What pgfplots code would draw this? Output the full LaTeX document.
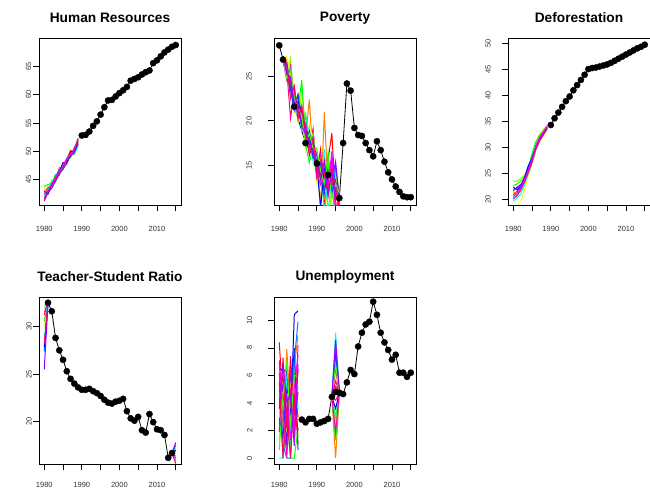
\documentclass[border=0pt]{standalone}
\usepackage{fontspec}
\setmainfont{Liberation Sans}
\usepackage{pgfplots}
\usepackage{pgfplotstable}
\pgfplotsset{compat=1.18}

% rainbow palette for the imputed series
\definecolor{rb1}{HTML}{FF0000}
\definecolor{rb2}{HTML}{FF8000}
\definecolor{rb3}{HTML}{FFFF00}
\definecolor{rb4}{HTML}{80FF00}
\definecolor{rb5}{HTML}{00FF00}
\definecolor{rb6}{HTML}{00FF80}
\definecolor{rb7}{HTML}{00FFFF}
\definecolor{rb8}{HTML}{0080FF}
\definecolor{rb9}{HTML}{0000FF}
\definecolor{rb10}{HTML}{8000FF}
\definecolor{rb11}{HTML}{FF00FF}
\definecolor{rb12}{HTML}{FF0080}
\definecolor{rb13}{HTML}{FF0040}
\definecolor{rb14}{HTML}{0040FF}
\definecolor{rb15}{HTML}{FF00C0}
\definecolor{rb16}{HTML}{40FF00}
\definecolor{rb17}{HTML}{FF0060}
\definecolor{rb18}{HTML}{A000FF}

% ---------------- observed series ----------------
\pgfplotstableread{
year val
1990 52.8
1991 52.9
1992 53.5
1993 54.5
1994 55.3
1995 56.5
1996 57.8
1997 59.0
1998 59.1
1999 59.7
2000 60.3
2001 60.8
2002 61.4
2003 62.5
2004 62.8
2005 63.1
2006 63.6
2007 64.0
2008 64.3
2009 65.6
2010 66.1
2011 66.8
2012 67.5
2013 68.0
2014 68.5
2015 68.8
}\hrobs

\pgfplotstableread{
year val
1980 28.5
1981 26.9
1984 21.6
1987 17.5
1990 15.2
1993 13.9
1996 11.3
1997 17.5
1998 24.2
1999 23.4
2000 19.2
2001 18.4
2002 18.3
2003 17.5
2004 16.7
2005 16.0
2006 17.7
2007 16.7
2008 15.4
2009 14.2
2010 13.4
2011 12.6
2012 12.0
2013 11.5
2014 11.4
2015 11.4
}\povobs

\pgfplotstableread{
year val
1990 34.3
1991 35.6
1992 36.7
1993 37.8
1994 38.9
1995 39.8
1996 41.0
1997 42.0
1998 43.0
1999 44.0
2000 45.1
2001 45.3
2002 45.4
2003 45.6
2004 45.8
2005 46.0
2006 46.3
2007 46.7
2008 47.1
2009 47.5
2010 47.9
2011 48.3
2012 48.7
2013 49.1
2014 49.4
2015 49.8
}\defobs

\pgfplotstableread{
year val
1981 32.5
1982 31.6
1983 28.8
1984 27.5
1985 26.5
1986 25.3
1987 24.5
1988 24.0
1989 23.6
1990 23.35
1991 23.35
1992 23.45
1993 23.2
1994 23.0
1995 22.7
1996 22.3
1997 22.0
1998 21.9
1999 22.1
2000 22.2
2001 22.4
2002 21.1
2003 20.35
2004 20.1
2005 20.5
2006 19.1
2007 18.85
2008 20.8
2009 19.95
2010 19.2
2011 19.1
2012 18.6
2013 16.2
2014 16.7
}\tsrobs

\pgfplotstableread{
year val
1986 2.8
1987 2.6
1988 2.85
1989 2.85
1990 2.5
1991 2.6
1992 2.7
1993 2.85
1994 4.45
1995 4.8
1996 4.75
1997 4.65
1998 5.5
1999 6.4
2000 6.1
2001 8.1
2002 9.1
2003 9.7
2004 9.9
2005 11.35
2006 10.4
2007 9.1
2008 8.4
2009 7.85
2010 7.15
2011 7.5
2012 6.2
2013 6.2
2014 5.9
2015 6.2
}\unobs

% ---------------- imputed series ----------------
\pgfplotstableread{
year s1 s2 s3 s4 s5 s6 s7 s8 s9 s10 s11 s12
1980 42.0 43.1 42.6 43.5 43.8 41.8 42.2 41.5 42.9 41.2 42.4 41.6
1981 43.5 42.9 44.0 43.0 44.1 43.4 42.6 43.1 42.4 42.7 43.6 42.8
1982 44.1 44.6 43.8 44.9 44.4 43.6 44.8 43.9 44.2 43.5 43.7 44.3
1983 45.8 45.0 45.6 44.6 45.9 44.9 45.3 45.5 45.1 44.7 45.4 44.9
1984 46.0 47.2 46.5 46.1 45.7 46.6 45.9 46.8 46.4 46.0 46.3 46.5
1985 47.6 46.8 47.9 47.0 47.4 46.7 47.8 47.2 48.0 46.9 47.5 47.3
1986 48.3 48.7 47.8 48.9 48.2 48.5 47.6 48.8 48.1 47.9 48.6 48.4
1987 49.4 50.2 49.3 48.8 49.8 49.1 49.6 49.0 50.0 49.2 49.5 49.7
1988 50.0 49.9 50.6 50.1 49.4 50.3 49.6 50.7 49.9 49.8 50.4 50.2
1989 51.5 51.9 51.2 51.6 51.0 51.8 50.9 51.4 52.0 51.3 52.2 52.3
}\hrimp

\pgfplotstableread{
year s1 s2 s3 s4 s5 s6 s7 s8 s9 s10 s11 s12 s13 s14 s15 s16 s17 s18
1981 26.9 26.9 26.5 27.1 26.7 27.2 26.8 27.0 26.6 27.3 26.9 27.0 26.8 27.1 26.7 27.0 26.9 27.2
1982 25.0 26.8 27.3 24.7 26.0 25.9 24.9 26.3 25.4 26.1 24.6 25.7 25.2 26.4 25.8 24.8 26.6 25.3
1983 26.4 23.1 25.5 27.0 24.4 22.9 25.1 23.8 24.8 23.4 26.0 20.3 24.0 23.6 24.6 25.7 22.5 24.9
1984 21.8 24.0 20.9 22.3 23.7 22.4 21.4 23.2 21.6 22.9 22.1 23.4 22.8 21.2 23.0 22.6 23.9 21.9
1985 23.0 20.1 22.6 19.9 21.3 21.9 20.6 21.0 22.2 20.4 21.7 21.2 20.8 22.9 20.9 21.5 20.2 21.8
1986 19.2 21.9 20.8 23.5 24.6 18.9 20.1 19.5 21.1 20.6 19.8 20.9 21.4 19.6 20.2 20.5 21.6 19.3
1987 20.6 18.0 16.6 19.2 17.4 20.8 18.4 19.8 17.9 18.7 19.5 17.8 18.9 19.0 18.2 17.3 19.1 18.6
1988 16.9 22.4 19.7 16.4 15.3 17.6 19.3 17.0 18.8 17.3 18.0 18.5 17.9 18.3 16.8 18.6 16.1 17.7
1989 19.1 15.9 17.8 18.6 17.0 16.3 15.4 18.2 16.6 17.5 16.0 17.3 17.6 15.8 17.9 16.9 18.0 16.4
1990 14.2 16.4 13.1 15.3 16.9 13.7 15.9 14.6 15.0 16.1 14.9 13.5 14.8 15.6 14.1 16.6 13.9 15.2
1991 16.8 10.2 15.8 10.0 13.6 14.9 13.0 15.4 10.3 14.1 16.2 14.8 13.8 15.1 12.8 14.4 15.6 13.3
1992 10.0 21.0 13.5 15.9 12.2 9.8 16.8 13.1 14.6 12.6 13.9 15.2 14.2 11.8 13.7 12.9 14.0 15.5
1993 15.6 12.2 9.5 14.6 16.4 13.2 9.6 15.0 13.3 14.3 12.1 13.6 11.5 14.9 13.0 15.3 12.7 11.7
1994 18.6 14.9 13.8 9.0 12.5 15.3 14.0 11.9 15.9 13.2 16.6 12.8 14.6 12.0 15.1 11.2 13.5 14.4
1995 11.0 10.4 14.3 13.9 9.2 12.7 12.0 14.8 11.6 15.4 9.5 13.4 12.3 13.1 10.1 12.9 11.8 11.1
1996 11.8 11.3 11.0 12.2 11.4 10.6 11.2 11.5 10.9 11.1 12.4 9.8 10.7 11.6 10.8 11.9 10.5 11.3
}\povimp

\pgfplotstableread{
year s1 s2 s3 s4 s5 s6 s7 s8 s9 s10 s11 s12
1980 20.8 21.4 18.4 23.5 22.6 20.2 19.6 21.9 22.3 21.6 20.5 20.0
1981 21.5 21.0 18.7 23.4 22.9 20.8 20.1 22.1 21.8 22.3 21.1 20.6
1982 22.1 21.9 19.6 24.0 23.5 21.6 21.0 22.6 22.4 22.8 22.2 21.8
1983 23.9 23.2 21.8 24.6 24.3 23.1 22.7 23.8 24.2 24.0 23.6 23.3
1984 25.8 25.0 24.5 26.1 25.9 25.3 24.9 26.2 26.4 25.7 25.5 25.1
1985 27.9 27.2 26.8 28.4 28.8 27.5 27.0 28.1 27.8 27.4 27.7 27.1
1986 30.3 29.7 29.4 30.9 31.0 29.9 29.5 30.2 30.0 29.8 30.1 29.6
1987 31.8 31.2 31.0 32.5 32.2 31.4 31.3 31.7 31.6 31.5 31.9 31.2
1988 32.8 32.3 32.2 33.4 33.0 32.6 32.4 32.9 32.5 32.7 33.0 32.4
1989 33.9 33.4 33.3 34.2 34.0 33.7 33.5 33.8 33.6 33.9 34.1 33.7
}\defimp

\pgfplotstableread{
year s1 s2 s3 s4 s5 s6 s7 s8 s9 s10 s11 s12
1980 31.2 30.5 29.8 31.9 30.6 32.2 28.6 27.4 27.8 25.5 31.5 28.2
1981 32.5 32.5 32.5 32.5 32.5 32.5 32.5 32.5 32.5 32.5 32.5 32.5
}\tsrimpA

\pgfplotstableread{
year s1 s2 s3 s4 s5 s6 s7 s8 s9 s10 s11 s12
2014 16.7 16.7 16.7 16.7 16.7 16.7 16.7 16.7 16.7 16.7 16.7 16.7
2015 15.9 16.4 15.6 17.2 16.0 16.9 15.8 17.5 17.0 17.8 16.2 15.6
}\tsrimpB

\pgfplotstableread{
year s1 s2 s3 s4 s5 s6 s7 s8 s9 s10 s11 s12 s13 s14 s15 s16 s17 s18
1980 8.4 5.0 3.3 1.2 4.4 2.5 0.0 6.2 6.6 3.6 6.9 1.9 4.8 2.9 7.1 0.6 5.6 3.9
1981 4.1 2.2 7.2 5.6 0.0 3.8 0.0 1.0 6.3 5.4 2.9 7.3 6.0 1.5 3.6 4.5 0.0 6.8
1982 6.8 7.9 1.9 3.9 2.8 0.5 6.1 0.0 6.4 0.9 4.6 3.0 2.2 5.0 0.0 7.0 3.4 4.1
1983 2.0 3.4 5.8 0.8 0.0 3.2 1.6 0.0 2.6 6.2 1.3 6.7 7.4 4.2 5.1 2.3 0.0 4.6
1984 5.5 6.6 2.5 6.3 0.0 1.4 7.6 7.1 10.4 4.0 5.0 2.2 3.1 8.0 1.8 6.0 4.7 0.9
1985 3.0 8.9 4.4 1.5 2.2 5.2 3.6 9.9 10.7 2.0 7.5 4.8 6.4 0.6 8.2 5.9 1.0 6.8
}\unimpA

\pgfplotstableread{
year s1 s2 s3 s4 s5 s6 s7 s8 s9 s10 s11 s12 s13 s14 s15 s16 s17 s18
1994 4.45 4.45 4.45 4.45 4.45 4.45 4.45 4.45 4.45 4.45 4.45 4.45 4.45 4.45 4.45 4.45 4.45 4.45
1995 5.2 0.0 6.1 2.4 1.3 3.0 9.1 8.2 3.6 7.0 6.5 5.6 4.2 7.6 1.9 6.8 5.0 8.6
1996 4.75 4.75 4.75 4.75 4.75 4.75 4.75 4.75 4.75 4.75 4.75 4.75 4.75 4.75 4.75 4.75 4.75 4.75
}\unimpB

\pgfplotsset{
  panel/.style={
    scale only axis, width=142pt, height=167pt, anchor=north west,
    xmin=1978.6, xmax=2016.4,
    xtick={1980,1985,...,2015},
    xticklabels={1980,,1990,,2000,,2010,},
    tick pos=left, tick align=outside, major tick length=6pt,
    axis line style={line width=0.8pt},
    every tick/.style={black, line width=0.7pt},
    tick label style={font=\fontsize{7.5}{8}\selectfont, text=black!80, inner sep=0pt},
    xticklabel style={anchor=north},
    yticklabel style={rotate=90, anchor=south},
    xticklabel shift=15.5pt,
    title style={font=\bfseries\fontsize{13.7}{15}\selectfont, anchor=center, at={(0.5,1)}, yshift=14pt},
    /pgf/number format/assume math mode=true,
  },
  lower row/.style={xticklabel shift=12.5pt},
  imp/.style={line width=1pt, mark=none},
  obsline/.style={black, line width=0.8pt, mark=none},
  obsmark/.style={only marks, mark=*, mark size=3.1pt, black},
}

\begin{document}
\begin{tikzpicture}
\path[use as bounding box] (0,0) rectangle (650pt,491pt);

% Human Resources
\begin{axis}[panel, at={(39pt,453pt)}, title={Human Resources},
  ymin=40.5, ymax=70.05, ytick={45,50,...,65}, yticklabel shift=1.5pt]
  \addplot[obsline] table[x=year,y=val]{\hrobs};
  \pgfplotsinvokeforeach{1,...,12}{\addplot[rb#1, imp] table[x=year,y=s#1]{\hrimp};}
  \addplot[obsmark] table[x=year,y=val]{\hrobs};
\end{axis}

% Poverty
\begin{axis}[panel, at={(274pt,453pt)}, title={Poverty},
  ymin=10.52, ymax=29.33, ytick={15,20,25}, yticklabel shift=16pt]
  \addplot[obsline] table[x=year,y=val]{\povobs};
  \pgfplotsinvokeforeach{1,...,18}{\addplot[rb#1, imp] table[x=year,y=s#1]{\povimp};}
  \addplot[obsmark] table[x=year,y=val]{\povobs};
\end{axis}

% Deforestation
\begin{axis}[panel, at={(508pt,453pt)}, title={Deforestation},
  ymin=18.85, ymax=51.1, ytick={20,25,...,50}, yticklabel shift=11pt]
  \addplot[obsline] table[x=year,y=val]{\defobs};
  \pgfplotsinvokeforeach{1,...,12}{\addplot[rb#1, imp] table[x=year,y=s#1]{\defimp};}
  \addplot[obsmark] table[x=year,y=val]{\defobs};
\end{axis}

% Teacher-Student Ratio
\begin{axis}[panel, lower row, at={(39pt,194pt)}, title={Teacher-Student Ratio},
  ymin=15.55, ymax=33.1, ytick={20,25,30}, yticklabel shift=1pt]
  \addplot[obsline] table[x=year,y=val]{\tsrobs};
  \pgfplotsinvokeforeach{1,...,12}{\addplot[rb#1, imp] table[x=year,y=s#1]{\tsrimpA};}
  \pgfplotsinvokeforeach{1,...,12}{\addplot[rb#1, imp] table[x=year,y=s#1]{\tsrimpB};}
  \addplot[obsmark] table[x=year,y=val]{\tsrobs};
\end{axis}

% Unemployment
\begin{axis}[panel, lower row, at={(274pt,194pt)}, title={Unemployment},
  ymin=-0.42, ymax=11.69, ytick={0,2,...,10}, yticklabel shift=15.5pt]
  \addplot[obsline] table[x=year,y=val]{\unobs};
  \pgfplotsinvokeforeach{1,...,18}{\addplot[rb#1, imp] table[x=year,y=s#1]{\unimpA};}
  \pgfplotsinvokeforeach{1,...,18}{\addplot[rb#1, imp] table[x=year,y=s#1]{\unimpB};}
  \addplot[obsmark] table[x=year,y=val]{\unobs};
\end{axis}
\end{tikzpicture}
\end{document}
